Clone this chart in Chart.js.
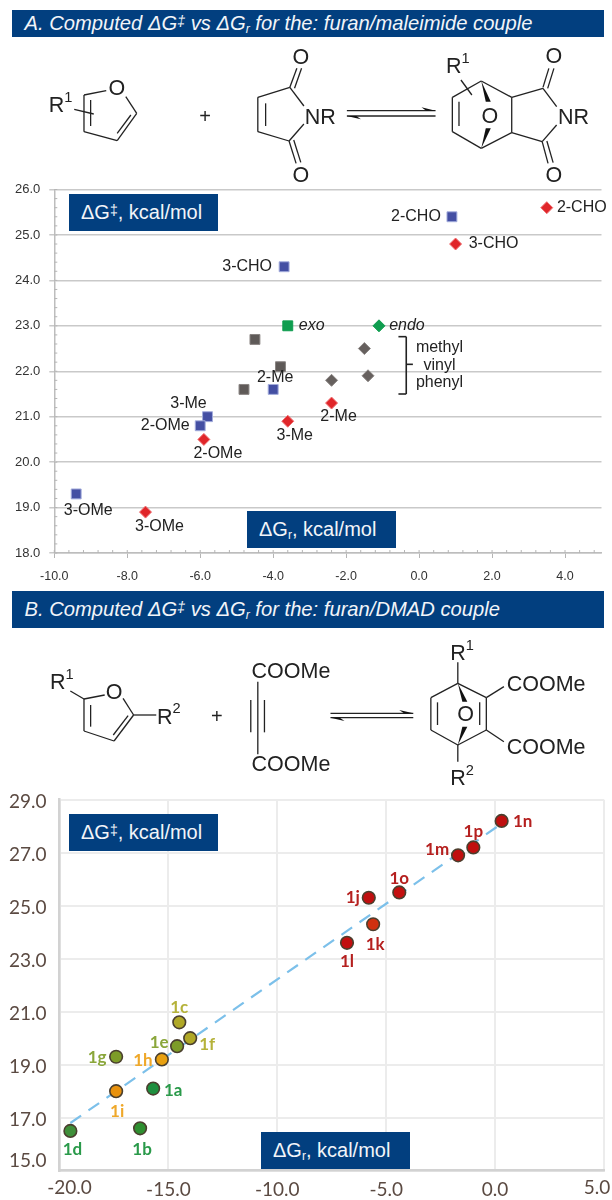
<!DOCTYPE html>
<html>
<head>
<meta charset="utf-8">
<script src="https://cdn.jsdelivr.net/npm/chart.js@4"></script>
<style>
  html, body { margin: 0; padding: 0; background: #fff; }
  #page { position: relative; width: 612px; height: 1200px; overflow: hidden; font-family: "Liberation Sans", sans-serif; }
  canvas { position: absolute; left: 0; }
  svg { position: absolute; left: 0; top: 0; }
  .banner { position: absolute; left: 12px; width: 592px; background: #023f7f; color: #f2f5f9; font-style: italic; box-sizing: border-box; padding-left: 12.5px; white-space: nowrap; font-size: 20.2px; }
  .tag { position: absolute; background: #023f7f; color: #f2f5f9; width: 149px; height: 37px; line-height: 36px; font-size: 20px; box-sizing: border-box; padding-left: 12px; white-space: nowrap; }
  sub { font-size: 60%; line-height: 0; vertical-align: -0.25em; }
  sup { font-size: 70%; line-height: 0; vertical-align: 0.3em; }
</style>
</head>
<body>
<div id="page">
  <div class="banner" style="top:10px;height:27px;line-height:26px">A. Computed ΔG<sup>‡</sup> vs ΔG<sub>r</sub> for the: furan/maleimide couple</div>
  <div class="banner" style="top:591px;height:37px;line-height:36px">B. Computed ΔG<sup>‡</sup> vs ΔG<sub>r</sub> for the: furan/DMAD couple</div>
  <canvas id="chartA" width="612" height="420" style="top:170px"></canvas>
  <canvas id="chartB" width="612" height="430" style="top:770px"></canvas>
  <svg id="drawing" width="612" height="1200"></svg>
  <div class="tag" style="left:69px;top:194px">ΔG<sup>‡</sup>, kcal/mol</div>
  <div class="tag" style="left:247px;top:511px">ΔG<sub>r</sub>, kcal/mol</div>
  <div class="tag" style="left:69px;top:814px">ΔG<sup>‡</sup>, kcal/mol</div>
  <div class="tag" style="left:261px;top:1132px">ΔG<sub>r</sub>, kcal/mol</div>
</div>
<script>
// panel A values
const squareNames = ["2-CHO", "3-CHO", "2-Me", "3-Me", "2-OMe", "3-OMe"];
const squareDGr = [0.9, -3.7, -4.0, -5.8, -6.0, -9.4];
const squareDG = [25.4, 24.3, 21.6, 21.0, 20.8, 19.3];
const diamondNames = ["2-CHO", "3-CHO", "2-Me", "3-Me", "2-OMe", "3-OMe"];
const diamondDGr = [3.5, 1.0, -2.4, -3.6, -5.9, -7.5];
const diamondDG = [25.6, 24.8, 21.3, 20.9, 20.5, 18.9];
const greySquareDGr = [-4.5, -3.8, -4.8];
const greySquareDG = [22.7, 22.1, 21.6];
const greyDiamondDGr = [-1.5, -1.4, -2.4];
const greyDiamondDG = [22.5, 21.9, 21.8];
const exoDGr = [-3.6], exoDG = [23.0];
const endoDGr = [-1.1], endoDG = [23.0];

// panel B values
const compoundNames = ["1a","1b","1c","1d","1e","1f","1g","1h","1i","1j","1k","1l","1m","1n","1o","1p"];
const compoundDGr = [-15.7,-16.3,-14.5,-19.5,-14.6,-14.0,-17.4,-15.3,-17.4,-5.8,-5.6,-6.8,-1.7,0.3,-4.4,-1.0];
const compoundDG = [18.1,16.6,20.6,16.5,19.7,20.0,19.3,19.2,18.0,25.3,24.3,23.6,26.9,28.2,25.5,27.2];
const trendDGr = [-19.5, 0.3];
const trendDG = [16.8, 28.1];

// label placement and colours, kept apart from the values
const squareOffsets = [[-36,0],[-37,0],[2,-12],[-19,-13],[-35,0],[12,17]];
const diamondOffsets = [[35,0],[38,0],[7,14],[7,14],[14,14],[14,14]];
const compoundOffsets = [[20,2],[2,21],[0,-15],[2,19],[-18,-4],[17,6],[-19,1],[-19,1],[1,20],[-16,0],[2,20],[0,19],[-21,-6],[21,1],[0,-14],[0,-16]];
const compoundFill = ["#1f8f3f","#2e8f30","#b0a826","#3f8f3a","#7d9c28","#b0a826","#7d9c28","#e8a010","#e8920e","#bf0f0f","#d03010","#c20f0f","#c00f0f","#bf0f0f","#c4100f","#c00f0f"];
const compoundText = ["#2a9a4a","#2a9a4a","#b5b23a","#2a9a4a","#8aa63a","#b5b23a","#8aa63a","#efa82a","#efa82a","#b5201f","#b5201f","#b5201f","#b5201f","#b5201f","#b5201f","#b5201f"];

const zip = (xs, ys) => xs.map((x, i) => ({ x, y: ys[i] }));

// writes names next to their points, from the chart's own scales
const pointLabels = {
  id: "pointLabels",
  afterDatasetsDraw(chart) {
    const ctx = chart.ctx;
    chart.data.datasets.forEach((ds, d) => {
      if (!ds.names) return;
      chart.getDatasetMeta(d).data.forEach((pt, i) => {
        ctx.save();
        ctx.font = ds.labelFont;
        ctx.fillStyle = Array.isArray(ds.labelColor) ? ds.labelColor[i] : ds.labelColor;
        ctx.textAlign = "center";
        ctx.textBaseline = "middle";
        const off = ds.offsets[i];
        ctx.fillText(ds.names[i], pt.x + off[0], pt.y + off[1]);
        ctx.restore();
      });
    });
  }
};

// short inward ticks of panel A
const minorTicks = {
  id: "minorTicks",
  beforeDatasetsDraw(chart) {
    const { ctx, scales: { x, y }, chartArea: a } = chart;
    ctx.save();
    ctx.strokeStyle = "#b5b5b5";
    ctx.lineWidth = 1;
    ctx.beginPath();
    for (let v = -10; v <= 5.001; v += 0.4) {
      const px = x.getPixelForValue(v);
      ctx.moveTo(px, a.bottom); ctx.lineTo(px, a.bottom - 3);
    }
    for (let v = 18; v <= 26.001; v += 0.2) {
      const py = y.getPixelForValue(v);
      ctx.moveTo(a.left, py); ctx.lineTo(a.left + 3, py);
    }
    ctx.stroke();
    ctx.restore();
  }
};

// the end labels of panel B sit off their ticks in the picture
const endLabels = {
  id: "endLabels",
  afterDraw(chart) {
    const { ctx, scales: { x, y } } = chart;
    ctx.save();
    ctx.font = "19px Lato";
    ctx.fillStyle = "#5b4a42";
    ctx.textBaseline = "middle";
    ctx.textAlign = "center";
    ctx.fillText("-20.0", x.getPixelForValue(-20) + 10, y.bottom + 17);
    ctx.fillText("5.0", x.getPixelForValue(5) - 7, y.bottom + 17);
    ctx.textAlign = "right";
    ctx.fillText("15.0", x.left - 13, y.getPixelForValue(15) - 10);
    ctx.restore();
  }
};

function markerSet(data, style, radius, fill, border, extra) {
  return Object.assign({ data, pointStyle: style, pointRadius: radius, backgroundColor: fill, borderColor: border, pointBorderWidth: 1, showLine: false, clip: false }, extra || {});
}

const labelFontA = "16px 'Liberation Sans'";
new Chart(document.getElementById("chartA"), {
  type: "scatter",
  plugins: [minorTicks, pointLabels],
  data: {
    datasets: [
      markerSet(zip(greySquareDGr, greySquareDG), "rect", 7, "#5f5a58", "#8a8583"),
      markerSet(zip(greyDiamondDGr, greyDiamondDG), "rectRot", 6, "#66605e", "#8a8583"),
      markerSet(zip(squareDGr, squareDG), "rect", 7, "#444fa3", "#a3acdc", { names: squareNames, offsets: squareOffsets, labelFont: labelFontA, labelColor: "#222" }),
      markerSet(zip(diamondDGr, diamondDG), "rectRot", 6, "#e0262a", "#ee7072", { names: diamondNames, offsets: diamondOffsets, labelFont: labelFontA, labelColor: "#222" }),
      markerSet(zip(exoDGr, exoDG), "rect", 7, "#0f9d4f", "#0f9d4f", { names: ["exo"], offsets: [[24,0]], labelFont: "italic 16px 'Liberation Sans'", labelColor: "#222" }),
      markerSet(zip(endoDGr, endoDG), "rectRot", 6, "#0f9d4f", "#0f9d4f", { names: ["endo"], offsets: [[28,0]], labelFont: "italic 16px 'Liberation Sans'", labelColor: "#222" })
    ]
  },
  options: {
    responsive: false,
    animation: false,
    layout: { padding: { top: 19.5, right: 10.5 } },
    plugins: { legend: { display: false }, tooltip: { enabled: false } },
    scales: {
      x: {
        type: "linear", min: -10, max: 5,
        afterFit: s => { s.height = 37; },
        grid: { drawOnChartArea: false, color: "#b5b5b5", tickLength: 5 },
        border: { color: "#bdbdbd", width: 1.5 },
        ticks: { stepSize: 2, includeBounds: false, padding: 11, maxRotation: 0, font: { size: 12.5, family: "'Liberation Sans'" }, color: "#333", callback: v => v.toFixed(1) }
      },
      y: {
        min: 18, max: 26,
        afterFit: s => { s.width = 54.3; },
        grid: { color: "#c9c9c9", lineWidth: 1.5, tickLength: 5 },
        border: { color: "#bdbdbd", width: 1.5 },
        ticks: { stepSize: 1, padding: 9, font: { size: 13, family: "'Liberation Sans'" }, color: "#333", callback: v => v.toFixed(1) }
      }
    }
  }
});

new Chart(document.getElementById("chartB"), {
  type: "scatter",
  plugins: [pointLabels, endLabels],
  data: {
    datasets: [
      { data: zip(compoundDGr, compoundDG), pointStyle: "circle", pointRadius: 6.3, pointBorderWidth: 1.6, backgroundColor: compoundFill, borderColor: "#4a3f2e", showLine: false, clip: false,
        names: compoundNames, offsets: compoundOffsets, labelFont: "bold 17px Lato", labelColor: compoundText },
      { data: zip(trendDGr, trendDG), showLine: true, pointRadius: 0, borderColor: "#7cc0ea", borderWidth: 2.2, borderDash: [13, 9] }
    ]
  },
  options: {
    responsive: false,
    animation: false,
    layout: { padding: { top: 29.7, right: 7 } },
    plugins: { legend: { display: false }, tooltip: { enabled: false } },
    scales: {
      x: {
        type: "linear", min: -20, max: 5,
        afterFit: s => { s.height = 29.3; },
        grid: { color: "#ececec", lineWidth: 2, tickLength: 0 },
        border: { color: "#d2d2d2", width: 2.5 },
        ticks: { stepSize: 5, padding: 8, maxRotation: 0, font: { size: 19, family: "Lato" }, color: "#5b4a42", callback: v => (v === -20 || v === 5) ? "" : v.toFixed(1) }
      },
      y: {
        min: 15, max: 29,
        afterFit: s => { s.width = 59.5; },
        grid: { color: "#ececec", lineWidth: 2, tickLength: 0 },
        border: { color: "#d2d2d2", width: 2.5 },
        ticks: { stepSize: 2, padding: 13, labelOffset: 2, font: { size: 19, family: "Lato" }, color: "#5b4a42", callback: v => v === 15 ? "" : v.toFixed(1) }
      }
    }
  }
});

// reaction schemes and the bracket, drawn in the zoom-crop coordinates they were read in
const svg = document.getElementById("drawing");
let originY = 0;
const px = x => x / 2.56;
const py = y => originY + y / 3;
let markup = "";
function bonds(list, width) {
  list.forEach(b => {
    markup += `<line x1="${px(b[0])}" y1="${py(b[1])}" x2="${px(b[2])}" y2="${py(b[3])}" stroke="#222" stroke-width="${width || 1.3}"/>`;
  });
}
function wedge(x1, y1, x2, y2) {
  markup += `<polygon points="${px(x1)},${py(y1)} ${px(x2) - 2.5},${py(y2)} ${px(x2) + 2.5},${py(y2)}" fill="#111"/>`;
}
function label(x, y, text, sup, size) {
  const s = size || 21.5;
  const tail = sup ? `<tspan dy="${-s * 0.38}" font-size="${s * 0.68}">${sup}</tspan>` : "";
  markup += `<text x="${px(x)}" y="${py(y)}" font-size="${s}" fill="#222" text-anchor="middle" dominant-baseline="central" font-family="'Liberation Sans'">${text}${tail}</text>`;
}
function arrows(x1, x2, y1, y2) {
  bonds([[x1, y1, x2, y1], [x1, y2, x2, y2]], 1.4);
  markup += `<polygon points="${px(x2)},${py(y1)} ${px(x2 - 36)},${py(y1 - 10)} ${px(x2 - 24)},${py(y1)}" fill="#111"/>`;
  markup += `<polygon points="${px(x1)},${py(y2)} ${px(x1 + 36)},${py(y2 + 10)} ${px(x1 + 24)},${py(y2)}" fill="#111"/>`;
}

// scheme A
originY = 0;
bonds([[272,272,215,285],[215,285,215,395],[215,395,300,422],[300,422,350,340],[350,340,322,290],[232,300,232,378],[300,400,335,345],[190,328,240,342],
  [742,262,660,292],[660,292,660,395],[660,395,740,423],[740,423,778,372],[742,262,778,318],[680,310,680,378],[742,262,760,205],[754,265,772,205],[740,423,758,490],[752,420,770,487],
  [1180,240,1208,285],[1158,292,1232,243],[1232,243,1310,292],[1310,292,1310,398],[1310,398,1232,445],[1232,445,1158,395],[1158,292,1158,395],[1175,305,1175,378],
  [1310,292,1390,265],[1390,265,1425,320],[1310,398,1388,425],[1388,425,1425,375],[1390,262,1405,205],[1402,265,1418,205],[1388,425,1403,490],[1400,423,1416,488]]);
wedge(1232,243,1250,305);
wedge(1232,445,1250,385);
arrows(888,1115,332,348);
label(155,315,"R","1");
label(299,265,"O");
label(525,348,"+",null,20);
label(770,170,"O");
label(820,350,"NR");
label(770,525,"O");
label(1172,198,"R","1");
label(1254,348,"O");
label(1418,168,"O");
label(1468,350,"NR");
label(1418,525,"O");

// methyl / vinyl / phenyl bracket
originY = 175;
bonds([[1040,485,1040,657],[1020,485,1040,485],[1020,657,1040,657],[1040,568,1057,568]], 1.6);
label(1125,515,"methyl",null,16);
label(1125,568,"vinyl",null,16);
label(1125,618,"phenyl",null,16);

// scheme B
originY = 585;
bonds([[180,318,215,342],[215,342,268,330],[315,340,342,390],[342,390,292,468],[292,468,215,438],[215,438,215,342],[232,360,232,425],[290,450,328,392],[342,390,400,390],
  [660,290,660,508],[642,345,642,442],[677,345,677,442],
  [1172,232,1172,295],[1172,295,1103,338],[1103,338,1103,435],[1103,435,1172,480],[1172,295,1245,338],[1245,338,1245,435],[1245,435,1172,480],[1120,352,1120,420],[1228,352,1228,420],
  [1245,338,1290,305],[1245,435,1290,470],[1172,480,1172,530]]);
wedge(1172,295,1190,350);
wedge(1172,480,1190,425);
arrows(846,1058,385,398);
label(158,292,"R","1");
label(292,320,"O");
label(432,395,"R","2");
label(555,393,"+",null,20);
label(745,258,"COOMe");
label(745,538,"COOMe");
label(1183,205,"R","1");
label(1192,388,"O");
label(1398,297,"COOMe");
label(1398,485,"COOMe");
label(1183,579,"R","2");

svg.innerHTML = markup;
</script>
</body>
</html>
